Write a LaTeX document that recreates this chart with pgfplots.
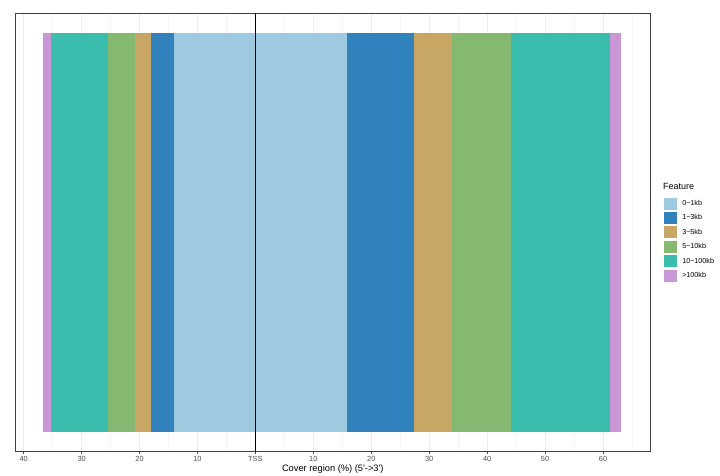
\documentclass[border=0pt]{standalone}
\usepackage{pgfplots}
\pgfplotsset{compat=1.18}
\usepackage{fontspec}
\setmainfont{Liberation Sans}
\definecolor{c0}{HTML}{9ECAE1}
\definecolor{c1}{HTML}{3182BD}
\definecolor{c2}{HTML}{C8A664}
\definecolor{c3}{HTML}{85B972}
\definecolor{c4}{HTML}{3BBDAE}
\definecolor{c5}{HTML}{C996D6}
\definecolor{tickgray}{HTML}{4D4D4D}
\begin{document}
\begin{tikzpicture}
\begin{axis}[
  name=main,
  scale only axis, width=635.5pt, height=438.2pt,
  xmin=-41.5, xmax=68.2, ymin=0, ymax=1,
  ytick=\empty,
  xtick pos=lower,
  xtick={-40,-30,-20,-10,0,10,20,30,40,50,60},
  xticklabels={40,30,20,10,TSS,10,20,30,40,50,60},
  minor xtick={-35,-25,-15,-5,5,15,25,35,45,55,65},
  xmajorgrids, xminorgrids,
  major grid style={gray!14, line width=0.5pt},
  minor grid style={gray!8, line width=0.35pt},
  tick align=outside, major tick length=2.5pt, minor tick length=0pt,
  tick style={tickgray, line width=0.5pt},
  axis line style={black!75, line width=0.6pt},
  /pgf/number format/assume math mode=true,
  xticklabel style={font=\fontsize{7.4}{8}\selectfont, text=tickgray, inner sep=0pt, yshift=-2.5pt},
  xlabel={Cover region (\%) (5\textquotesingle->3\textquotesingle)},
  xlabel style={font=\fontsize{9.3}{11}\selectfont, inner sep=0pt},
  xlabel shift=3pt,
  legend style={at={(axis description cs:1.0213,0.580)}, anchor=north west, draw=none, fill=none,
    font=\fontsize{7.2}{8}\selectfont, row sep=2.4pt, column sep=5pt, inner sep=0pt,
    nodes={inner sep=0pt}},
  legend cell align=left,
  legend image code/.code={\path[#1, draw=none] (0pt,-6pt) rectangle (13pt,6pt);},
]
% 0~1kb
\addplot[fill=c0, draw=none] coordinates {(-14.0,0.045) (15.75,0.045) (15.75,0.954) (-14.0,0.954)} -- cycle;
\addlegendentry{0\textasciitilde 1kb}
% 1~3kb
\addplot[fill=c1, draw=none] coordinates {(-18.05,0.045) (-14.0,0.045) (-14.0,0.954) (-18.05,0.954)} -- cycle;
\addlegendentry{1\textasciitilde 3kb}
\addplot[fill=c1, draw=none, forget plot] coordinates {(15.75,0.045) (27.4,0.045) (27.4,0.954) (15.75,0.954)} -- cycle;
% 3~5kb
\addplot[fill=c2, draw=none] coordinates {(-20.8,0.045) (-18.05,0.045) (-18.05,0.954) (-20.8,0.954)} -- cycle;
\addlegendentry{3\textasciitilde 5kb}
\addplot[fill=c2, draw=none, forget plot] coordinates {(27.4,0.045) (34.0,0.045) (34.0,0.954) (27.4,0.954)} -- cycle;
% 5~10kb
\addplot[fill=c3, draw=none] coordinates {(-25.5,0.045) (-20.8,0.045) (-20.8,0.954) (-25.5,0.954)} -- cycle;
\addlegendentry{5\textasciitilde 10kb}
\addplot[fill=c3, draw=none, forget plot] coordinates {(34.0,0.045) (44.1,0.045) (44.1,0.954) (34.0,0.954)} -- cycle;
% 10~100kb
\addplot[fill=c4, draw=none] coordinates {(-35.3,0.045) (-25.5,0.045) (-25.5,0.954) (-35.3,0.954)} -- cycle;
\addlegendentry{10\textasciitilde 100kb}
\addplot[fill=c4, draw=none, forget plot] coordinates {(44.1,0.045) (61.2,0.045) (61.2,0.954) (44.1,0.954)} -- cycle;
% >100kb
\addplot[fill=c5, draw=none] coordinates {(-36.65,0.045) (-35.3,0.045) (-35.3,0.954) (-36.65,0.954)} -- cycle;
\addlegendentry{>100kb}
\addplot[fill=c5, draw=none, forget plot] coordinates {(61.2,0.045) (63.1,0.045) (63.1,0.954) (61.2,0.954)} -- cycle;
% TSS line
\addplot[black, line width=0.8pt, forget plot] coordinates {(0,0) (0,1)};
\end{axis}
\node[anchor=west, inner sep=0pt, font=\fontsize{9}{10}\selectfont] at ([shift={(648pt,264.8pt)}]main.south west) {Feature};
\pgfresetboundingbox
\path[use as bounding box] ([shift={(-15pt,-23.5pt)}]main.south west) rectangle ++(720pt,475pt);
\end{tikzpicture}
\end{document}
